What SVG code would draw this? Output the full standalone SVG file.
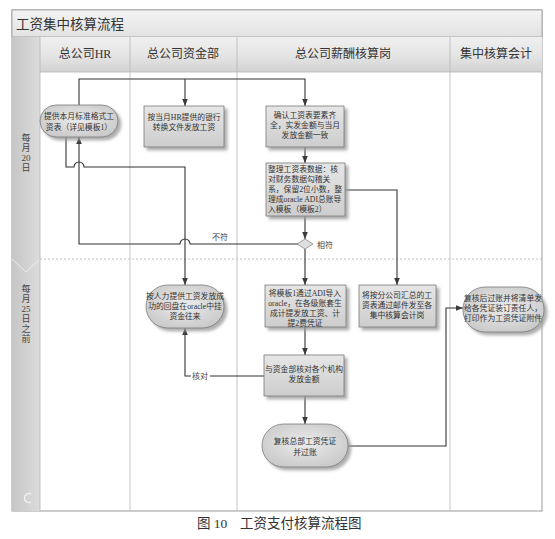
<svg xmlns="http://www.w3.org/2000/svg" width="555" height="539" viewBox="0 0 555 539">
<defs>
<linearGradient id="gTitle" x1="0" y1="0" x2="0" y2="1"><stop offset="0" stop-color="#f4f4f4"/><stop offset="1" stop-color="#e2e2e2"/></linearGradient>
<linearGradient id="gHead" x1="0" y1="0" x2="0" y2="1"><stop offset="0" stop-color="#f0f0f0"/><stop offset="0.55" stop-color="#e4e4e4"/><stop offset="1" stop-color="#d2d2d2"/></linearGradient>
<linearGradient id="gBand" x1="0" y1="0" x2="1" y2="0"><stop offset="0" stop-color="#c6c6c6"/><stop offset="1" stop-color="#dcdcdc"/></linearGradient>
<linearGradient id="gBox" x1="0" y1="0" x2="0" y2="1"><stop offset="0" stop-color="#e6e6e6"/><stop offset="1" stop-color="#cdcdcd"/></linearGradient>
<radialGradient id="gTerm" cx="0.5" cy="0.45" r="0.6"><stop offset="0" stop-color="#ececec"/><stop offset="1" stop-color="#c9c9c9"/></radialGradient>
<filter id="sh" x="-20%" y="-20%" width="140%" height="150%"><feDropShadow dx="3" dy="3" stdDeviation="1.5" flood-color="#9a9a9a" flood-opacity="0.8"/></filter>
<marker id="arr" viewBox="0 0 10 10" refX="10" refY="5" markerWidth="7" markerHeight="7" markerUnits="userSpaceOnUse" orient="auto"><path d="M0,1 L10,5 L0,9 z" fill="#3a3a3a"/></marker>
<style>
.box{fill:url(#gBox);stroke:#7a7a7a;stroke-width:0.8;filter:url(#sh)}
.term{fill:url(#gTerm);stroke:#7a7a7a;stroke-width:0.8;filter:url(#sh)}
.t{font-family:"Liberation Serif","Noto Sans CJK SC",serif;font-size:7.8px;fill:#333}
.c{text-anchor:middle}
.hd{font-family:"Liberation Serif","Noto Sans CJK SC",serif;font-size:12px;fill:#333;text-anchor:middle}
.lane{stroke:#b5b5b5;stroke-width:0.8;fill:none}
.con{fill:none;stroke:#333;stroke-width:1.1}
.lbl{font-family:"Liberation Serif","Noto Sans CJK SC",serif;font-size:8px;fill:#444}
.side{font-family:"Liberation Serif","Noto Sans CJK SC",serif;font-size:9px;fill:#444;text-anchor:middle}
</style>
</defs>
<rect width="555" height="539" fill="#fff"/>
<g id="frame">
<rect x="12" y="10" width="530" height="501" fill="#fff" stroke="#9a9a9a" stroke-width="1"/>
<rect x="12" y="10" width="530" height="27" fill="url(#gTitle)" stroke="#9a9a9a" stroke-width="0.8"/>
<text x="16" y="29" font-family="Liberation Serif,'Noto Sans CJK SC',serif" font-size="13.5" fill="#333">工资集中核算流程</text>
<rect x="12" y="37" width="28" height="474" fill="url(#gBand)"/>
<polyline points="12,259 26,272 40,259" fill="none" stroke="#ececec" stroke-width="1"/>
<path d="M31,494 A4.5,4.5 0 1 0 31,502" fill="none" stroke="#f6f6f6" stroke-width="1.2"/>
<rect x="40" y="37" width="90" height="35" fill="url(#gHead)"/>
<rect x="130" y="37" width="107" height="35" fill="url(#gHead)"/>
<rect x="237" y="37" width="213" height="35" fill="url(#gHead)"/>
<rect x="450" y="37" width="92" height="35" fill="url(#gHead)"/>
<line x1="40" y1="72" x2="542" y2="72" class="lane"/>
<line x1="40" y1="37" x2="40" y2="511" class="lane"/>
<line x1="130" y1="37" x2="130" y2="511" class="lane"/>
<line x1="237" y1="37" x2="237" y2="511" class="lane"/>
<line x1="450" y1="37" x2="450" y2="511" class="lane"/>
<line x1="40" y1="259" x2="542" y2="259" stroke="#b0b0b0" stroke-width="0.8" stroke-dasharray="2,2"/>
<text class="hd" x="85" y="58">总公司HR</text>
<text class="hd" x="183" y="58">总公司资金部</text>
<text class="hd" x="343" y="58">总公司薪酬核算岗</text>
<text class="hd" x="496" y="58">集中核算会计</text>
<text class="side"><tspan x="26" y="141">每</tspan><tspan x="26" y="151">月</tspan><tspan x="26" y="161">20</tspan><tspan x="26" y="171">日</tspan></text>
<text class="side"><tspan x="26" y="292">每</tspan><tspan x="26" y="302">月</tspan><tspan x="26" y="312">25</tspan><tspan x="26" y="322">日</tspan><tspan x="26" y="332">之</tspan><tspan x="26" y="342">前</tspan></text>
</g>
<g id="connectors">
<path class="con" d="M79,105 V79 H305 V106" marker-end="url(#arr)"/>
<path class="con" d="M185,79 V106" marker-end="url(#arr)"/>
<path class="con" d="M66,137 V167 H74 A5,5 0 0 1 84,167 H185 V285" marker-end="url(#arr)"/>
<path class="con" d="M299,244 H190 A5,5 0 0 0 180,244 H79 V137" marker-end="url(#arr)"/>
<path class="con" d="M305,147 V163" marker-end="url(#arr)"/>
<path class="con" d="M305,216 V239" marker-end="url(#arr)"/>
<path class="con" d="M305,249 V285" marker-end="url(#arr)"/>
<path class="con" d="M345,190 H397 V285" marker-end="url(#arr)"/>
<path class="con" d="M305,327 V355" marker-end="url(#arr)"/>
<path class="con" d="M264,376 H185 V328" marker-end="url(#arr)"/>
<path class="con" d="M305,396 V424" marker-end="url(#arr)"/>
<path class="con" d="M348,446 H446 V308 H463" marker-end="url(#arr)"/>
<rect x="191" y="371" width="19" height="10" fill="#fff"/>
<text class="lbl" x="192" y="379">核对</text>
<text class="lbl" x="212" y="240">不符</text>
<text class="lbl" x="317" y="248">相符</text>
</g>
<g id="n_hr">
<rect class="term" x="40" y="105" width="78" height="32" rx="16" ry="16"/>
<text class="t c"><tspan x="79" y="119">提供本月标准格式工</tspan><tspan x="79" y="130">资表（详见模板1）</tspan></text>
</g>
<g id="n_fund1">
<rect class="box" x="144" y="106" width="80" height="41"/>
<text class="t c"><tspan x="184" y="120">按当月HR提供的银行</tspan><tspan x="184" y="130">转换文件发放工资</tspan></text>
</g>
<g id="n_pay1">
<rect class="box" x="266" y="106" width="78" height="41"/>
<text class="t c"><tspan x="305" y="118">确认工资表要素齐</tspan><tspan x="305" y="128">全，实发金额与当月</tspan><tspan x="305" y="138">发放金额一致</tspan></text>
</g>
<g id="n_pay2">
<rect class="box" x="266" y="163" width="79" height="53"/>
<text class="t"><tspan x="268" y="172">整理工资表数据：核</tspan><tspan x="268" y="182">对财务数据勾稽关</tspan><tspan x="268" y="192">系，保留2位小数，整</tspan><tspan x="268" y="202">理成oracle ADI总账导</tspan><tspan x="268" y="212">入模板（模板2）</tspan></text>
</g>
<g id="n_decision">
<polygon points="305,239 313,244 305,249 297,244" fill="#e0e0e0" stroke="#8a8a8a" stroke-width="0.8"/>
</g>
<g id="n_fund2">
<rect class="term" x="146" y="285" width="78" height="43" rx="21.5" ry="21.5"/>
<text class="t c"><tspan x="185" y="299">按人力提供工资发放成</tspan><tspan x="185" y="309">功的回盘在oracle中挂</tspan><tspan x="185" y="319">资金往来</tspan></text>
</g>
<g id="n_pay3">
<rect class="box" x="265" y="285" width="81" height="42"/>
<text class="t c"><tspan x="305" y="296">将模板1通过ADI导入</tspan><tspan x="305" y="306">oracle，在各级账套生</tspan><tspan x="305" y="316">成计提发放工资、计</tspan><tspan x="305" y="326">提2费凭证</tspan></text>
</g>
<g id="n_pay4">
<rect class="box" x="359" y="285" width="77" height="42"/>
<text class="t c"><tspan x="397" y="298">将按分公司汇总的工</tspan><tspan x="397" y="308">资表通过邮件发至各</tspan><tspan x="397" y="318">集中核算会计岗</tspan></text>
</g>
<g id="n_pay5">
<rect class="box" x="264" y="355" width="80" height="41"/>
<text class="t c"><tspan x="304" y="372">与资金部核对各个机构</tspan><tspan x="304" y="382">发放金额</tspan></text>
</g>
<g id="n_pay6">
<rect class="term" x="262" y="424" width="86" height="43" rx="21.5" ry="21.5"/>
<text class="t c"><tspan x="305" y="444">复核总部工资凭证</tspan><tspan x="305" y="455">并过账</tspan></text>
</g>
<g id="n_acc">
<rect class="term" x="463" y="287" width="81" height="45" rx="22" ry="22"/>
<text class="t c"><tspan x="503" y="301">复核后过账并将清单发</tspan><tspan x="503" y="311">给各凭证装订责任人，</tspan><tspan x="503" y="321">打印作为工资凭证附件</tspan></text>
</g>
<text x="197" y="528" font-family="Liberation Serif,'Noto Sans CJK SC',serif" font-size="13.5" fill="#333"><tspan x="197">图 10</tspan><tspan x="240">工资支付核算流程图</tspan></text>
</svg>
